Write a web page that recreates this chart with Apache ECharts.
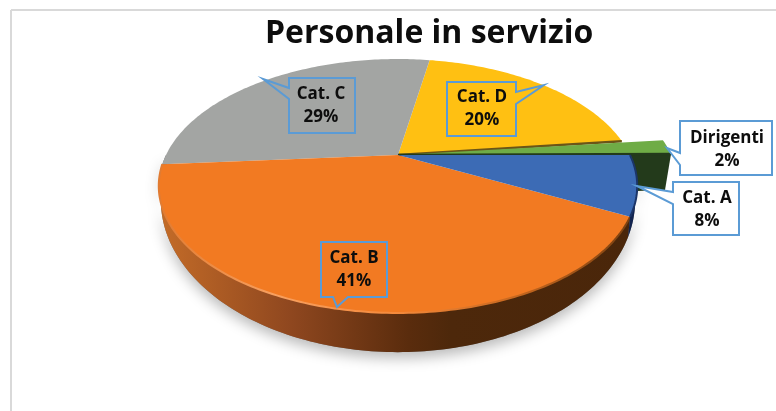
<!DOCTYPE html>
<html>
<head>
<meta charset="utf-8">
<style>
  html, body { margin: 0; padding: 0; background: #fff; }
  #chart { width: 776px; height: 411px; }
</style>
<script src="https://cdn.jsdelivr.net/npm/echarts@6/dist/echarts.min.js"></script>
</head>
<body>
<div id="chart"></div>
<script>
const categories = ["Cat. A", "Cat. B", "Cat. C", "Cat. D", "Dirigenti"];
const shares = [7.6, 41.2, 28.9, 20.4, 1.9];
const colors = ["#3C6BB5", "#F27A22", "#A3A5A3", "#FFC012", "#6FAC46"];
const paintOrder = [3, 2, 4, 1, 0];

// piatto in prospettiva: il centro non coincide con quello dell'ellisse
const top3d = { x: 398, y: 155, a: 232, b: 119.4 };
const bottom3d = { x: 398, y: 163, a: 230, b: 143 };
const tilt = 0.244;
const explode = { 4: [41, -1] };

// box dei fumetti: rettangolo, punta, base della punta, centro del testo
const callouts = {
  0: { box: [673, 182, 739, 235], tip: [637, 186], base: [[673, 204], [673, 192]], text: [707, 210], fill: "#fff" },
  1: { box: [321, 242, 387, 297], tip: [337, 307], base: [[348, 297], [333, 297]], text: [354, 270], fill: "none" },
  2: { box: [289, 78, 355, 133], tip: [263, 79], base: [[289, 99], [289, 88]], text: [321, 106], fill: "none" },
  3: { box: [447, 82, 516, 136], tip: [544, 85], base: [[516, 92], [516, 104]], text: [482, 109], fill: "none" },
  4: { box: [680, 121, 772, 175], tip: [667, 148], base: [[680, 165], [680, 153]], text: [727, 150], fill: "#fff" }
};

const total = shares.reduce((s, v) => s + v, 0);
const bounds = [];
shares.reduce((acc, v, i) => {
  bounds[i] = [acc, acc + v / total * 360];
  return acc + v / total * 360;
}, 0);

function rim(e, deg, off) {
  const t = deg * Math.PI / 180;
  const d = 1 - tilt * Math.sin(t);
  const o = off || [0, 0];
  return [e.x + e.a * Math.cos(t) / d + o[0], e.y + e.b * Math.sin(t) / d + o[1]];
}

function arc(e, from, to, off) {
  const pts = [];
  const n = Math.max(2, Math.ceil(Math.abs(to - from)));
  for (let i = 0; i <= n; i++) pts.push(rim(e, from + (to - from) * i / n, off));
  return pts;
}

function wallPoints(from, to) {
  return arc(top3d, from, to).concat(arc(bottom3d, to, from));
}

function renderShadow() {
  return {
    type: "polygon",
    shape: { points: wallPoints(0, 180) },
    style: { fill: "#777", shadowColor: "rgba(0,0,0,0.28)", shadowBlur: 14, shadowOffsetY: 6 }
  };
}

function renderSlice(params, api) {
  const i = api.value(0);
  const from = bounds[i][0];
  const to = bounds[i][1];
  const off = explode[i] || [0, 0];
  const children = [];

  if (i === 4) {
    // fianco scuro della fetta staccata
    const end = rim(top3d, to, off);
    children.push({
      type: "polygon",
      shape: { points: [end, [end[0] - 6, end[1] + 36], [end[0] - 34, end[1] + 37], [end[0] - 60, end[1] + 37], [end[0] - 60, end[1]]] },
      style: { fill: "#233A1B" }
    });
  }
  if (i === 1) {
    children.push({
      type: "polygon",
      shape: { points: wallPoints(from, to) },
      style: {
        fill: new echarts.graphic.LinearGradient(1, 0, 0, 0, [
          { offset: 0, color: "#4A260A" },
          { offset: 0.38, color: "#4D280B" },
          { offset: 0.47, color: "#5A2C0D" },
          { offset: 0.72, color: "#8F471F" },
          { offset: 1, color: "#C46C28" }
        ])
      }
    });
  }
  if (i === 0) {
    children.push({ type: "polygon", shape: { points: wallPoints(from, to) }, style: { fill: "#12244F" } });
  }

  // la fetta staccata parte comunque dal centro, cosi non resta un vuoto sotto Cat. D
  const apex = [top3d.x, top3d.y];
  children.push({
    type: "polygon",
    shape: { points: [apex].concat(arc(top3d, from, to, off)) },
    style: { fill: colors[i] }
  });

  if (i === 3) {
    // filo scuro tra Cat. D e la fetta verde
    children.push({
      type: "line",
      shape: { x1: apex[0], y1: apex[1], x2: rim(top3d, to)[0], y2: rim(top3d, to)[1] },
      style: { stroke: "#6B5518", lineWidth: 2.5 }
    });
  }
  if (i === 4) {
    // filo scuro sotto la fetta verde, copre anche la giuntura con Cat. A
    const end = rim(top3d, to, off);
    children.push({
      type: "line",
      shape: { x1: apex[0], y1: apex[1], x2: end[0], y2: end[1] },
      style: { stroke: "#233A1B", lineWidth: 2.5 }
    });
  }
  if (i === 1) {
    // smusso chiaro lungo il bordo anteriore
    children.push({
      type: "polyline",
      shape: { points: arc(top3d, from, to) },
      style: {
        fill: "none",
        lineWidth: 2,
        stroke: new echarts.graphic.LinearGradient(1, 0, 0, 0, [
          { offset: 0, color: "#7A4010" },
          { offset: 0.25, color: "#C8681F" },
          { offset: 0.5, color: "#F58A3C" },
          { offset: 0.75, color: "#F8A060" },
          { offset: 1, color: "#E07A30" }
        ])
      }
    });
  }
  if (i === 0) {
    children.push({
      type: "polyline",
      shape: { points: arc(top3d, from, to) },
      style: { fill: "none", lineWidth: 2, stroke: "#1B3568" }
    });
  }
  return { type: "group", children: children };
}

function renderCallout(params, api) {
  const i = api.value(0);
  const c = callouts[i];
  const [x0, y0, x1, y1] = c.box;
  // il perimetro passa dalla punta sul lato dove si trova la base
  let points;
  if (c.base[0][0] === x0) points = [[x0, y0], [x1, y0], [x1, y1], [x0, y1], c.base[0], c.tip, c.base[1]];
  else if (c.base[0][0] === x1) points = [[x0, y0], [x1, y0], c.base[0], c.tip, c.base[1], [x1, y1], [x0, y1]];
  else points = [[x0, y0], [x1, y0], [x1, y1], c.base[0], c.tip, c.base[1], [x0, y1]];
  return {
    type: "group",
    children: [
      {
        type: "polygon",
        shape: { points: points },
        style: { fill: c.fill, stroke: "#5B9BD5", lineWidth: 2 }
      },
      {
        type: "text",
        x: c.text[0],
        y: c.text[1],
        style: {
          text: categories[i] + "\n" + Math.round(shares[i] / total * 100) + "%",
          fill: "#0D0D0D",
          font: 'bold 17px "Open Sans"',
          lineHeight: 23,
          align: "center",
          verticalAlign: "middle"
        }
      }
    ]
  };
}

const chart = echarts.init(document.getElementById("chart"), undefined, { renderer: "canvas" });
chart.setOption({
  animation: false,
  title: {
    text: "Personale in servizio",
    left: 265,
    top: 18,
    padding: 0,
    textStyle: { fontFamily: "Open Sans", fontWeight: "bold", fontSize: 32, color: "#0D0D0D" }
  },
  graphic: [
    { type: "line", shape: { x1: 11, y1: 10, x2: 776, y2: 10 }, style: { stroke: "#D9D9D9", lineWidth: 2 } },
    { type: "line", shape: { x1: 11, y1: 10, x2: 11, y2: 411 }, style: { stroke: "#D9D9D9", lineWidth: 2 } }
  ],
  series: [
    { type: "custom", coordinateSystem: "none", silent: true, data: [[0]], renderItem: renderShadow },
    { type: "custom", coordinateSystem: "none", silent: true, data: paintOrder.map(i => [i]), renderItem: renderSlice },
    { type: "custom", coordinateSystem: "none", silent: true, data: categories.map((c, i) => [i]), renderItem: renderCallout }
  ]
});
</script>
</body>
</html>
